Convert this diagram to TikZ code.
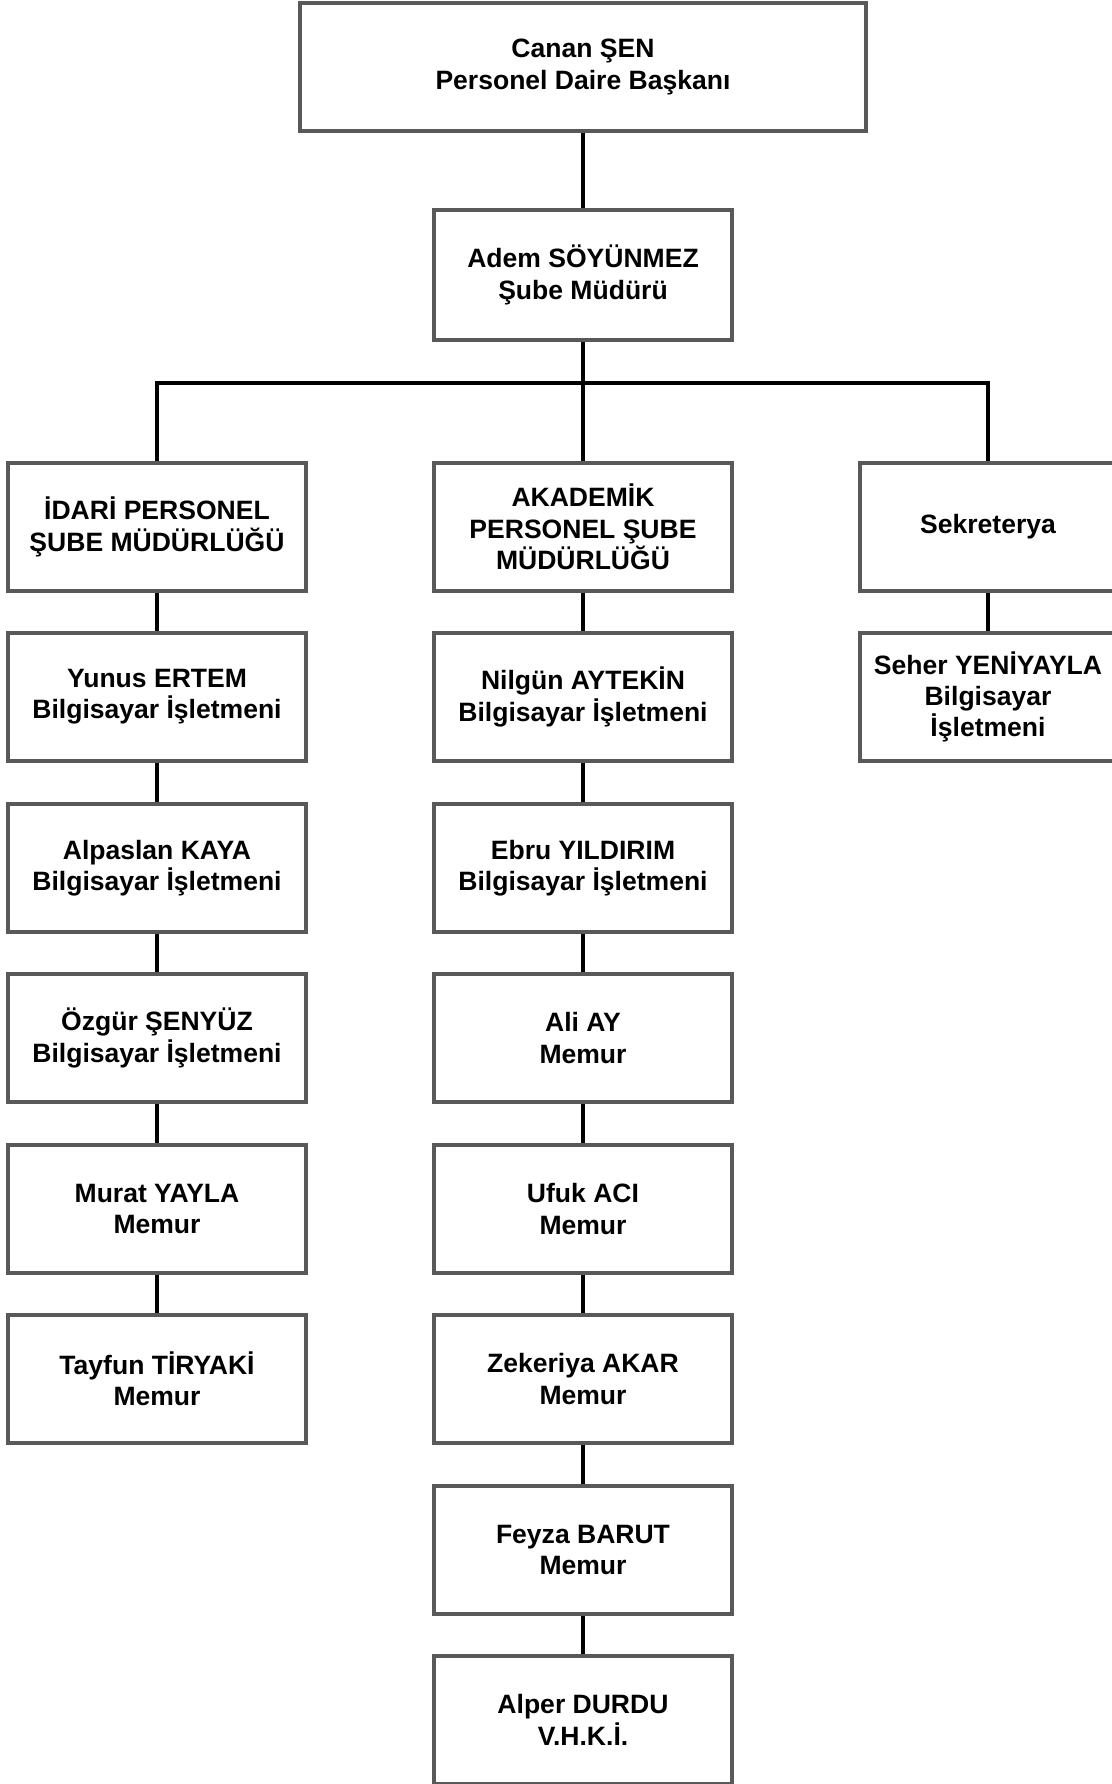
\documentclass[tikz,border=0pt]{standalone}
\usepackage{fontspec}
\setmainfont{Liberation Sans}
\begin{document}
\begin{tikzpicture}[
  kutu/.style={draw=black!65, line width=1.1pt, minimum width=2.98cm, minimum height=1.28cm, inner sep=0pt, align=center, font=\fontsize{7.55pt}{8.9pt}\selectfont\bfseries},
  hat/.style={line width=1.4pt}]
\useasboundingbox (0,0) rectangle (11.12,-17.84);
\node[kutu, minimum width=5.66cm, font=\fontsize{7.55pt}{9.1pt}\selectfont\bfseries] (a) at (5.83,-0.67) {Canan ŞEN\\Personel Daire Başkanı};
\node[kutu, minimum height=1.30cm] (b) at (5.83,-2.75) {Adem SÖYÜNMEZ\\Şube Müdürü};
\coordinate (j) at (5.83,-3.83);
% left column
\node[kutu] (l1) at (1.57,-5.27) {İDARİ PERSONEL\\ŞUBE MÜDÜRLÜĞÜ};
\node[kutu] (l2) at (1.57,-6.97) {Yunus ERTEM\\Bilgisayar İşletmeni};
\node[kutu] (l3) at (1.57,-8.68) {Alpaslan KAYA\\Bilgisayar İşletmeni};
\node[kutu] (l4) at (1.57,-10.38) {Özgür ŞENYÜZ\\Bilgisayar İşletmeni};
\node[kutu] (l5) at (1.57,-12.09) {Murat YAYLA\\Memur};
\node[kutu] (l6) at (1.57,-13.79) {Tayfun TİRYAKİ\\Memur};
% middle column
\node[kutu] (m1) at (5.83,-5.27) {AKADEMİK\\PERSONEL ŞUBE\\MÜDÜRLÜĞÜ};
\node[kutu] (m2) at (5.83,-6.97) {Nilgün AYTEKİN\\Bilgisayar İşletmeni};
\node[kutu] (m3) at (5.83,-8.68) {Ebru YILDIRIM\\Bilgisayar İşletmeni};
\node[kutu] (m4) at (5.83,-10.38) {Ali AY\\Memur};
\node[kutu] (m5) at (5.83,-12.09) {Ufuk ACI\\Memur};
\node[kutu] (m6) at (5.83,-13.79) {Zekeriya AKAR\\Memur};
\node[kutu] (m7) at (5.83,-15.50) {Feyza BARUT\\Memur};
\node[kutu] (m8) at (5.83,-17.20) {Alper DURDU\\V.H.K.İ.};
% right column
\node[kutu, minimum width=2.56cm] (r1) at (9.88,-5.27) {Sekreterya};
\node[kutu, minimum width=2.56cm] (r2) at (9.88,-6.97) {Seher YENİYAYLA\\Bilgisayar\\İşletmeni};
% connectors
\draw[hat] (a) -- (b);
\draw[hat] (b) -- (j);
\draw[hat] (l1.north) |- (j) -| (r1.north);
\draw[hat] (j) -- (m1);
\draw[hat] (l1) -- (l2);
\draw[hat] (l2) -- (l3);
\draw[hat] (l3) -- (l4);
\draw[hat] (l4) -- (l5);
\draw[hat] (l5) -- (l6);
\draw[hat] (m1) -- (m2);
\draw[hat] (m2) -- (m3);
\draw[hat] (m3) -- (m4);
\draw[hat] (m4) -- (m5);
\draw[hat] (m5) -- (m6);
\draw[hat] (m6) -- (m7);
\draw[hat] (m7) -- (m8);
\draw[hat] (r1) -- (r2);
\end{tikzpicture}
\end{document}
